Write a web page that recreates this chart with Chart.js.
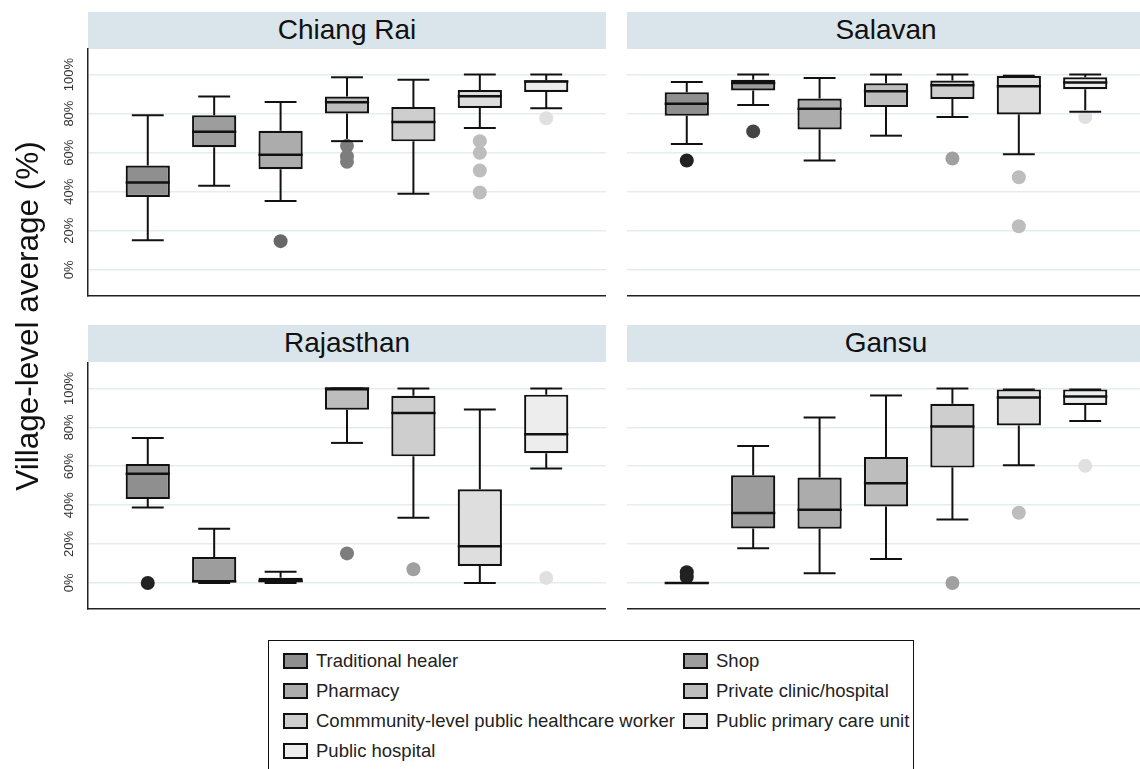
<!DOCTYPE html>
<html>
<head>
<meta charset="utf-8">
<script src="https://cdn.jsdelivr.net/npm/chart.js@4/dist/chart.umd.min.js"></script>
<style>
  html, body { margin: 0; padding: 0; background: #fff; }
  body { width: 1140px; height: 769px; overflow: hidden; position: relative;
         font-family: "Liberation Sans", Arial, Helvetica, sans-serif; }
  .strip { position: absolute; background: #d9e5ea; color: #111; font-size: 28px;
           display: flex; align-items: center; justify-content: center; padding-bottom: 2px; box-sizing: border-box; }
  canvas { position: absolute; }
  #ytitle { position: absolute; width: 440px; height: 36px; line-height: 36px; text-align: center;
            font-size: 31.5px; color: #111; left: -193px; top: 298px; transform: rotate(-90deg); }
  #legend { position: absolute; left: 268px; top: 640px; width: 646px; height: 150px;
            border: 1px solid #111; box-sizing: border-box; }
  .item { position: absolute; height: 20px; line-height: 20px; font-size: 18.5px; color: #222; white-space: nowrap; }
  .sw { position: absolute; width: 21px; height: 12px; border: 2px solid #111; top: 2px; left: 0; }
  .item span.t { position: absolute; left: 33px; top: 0; }
</style>
</head>
<body>

<div class="strip" style="left:88px;top:12px;width:518px;height:37px;">Chiang Rai</div>
<div class="strip" style="left:627px;top:12px;width:518px;height:37px;">Salavan</div>
<div class="strip" style="left:88px;top:325px;width:518px;height:37px;">Rajasthan</div>
<div class="strip" style="left:627px;top:325px;width:518px;height:37px;">Gansu</div>

<canvas id="c0" width="566" height="250" style="left:40px;top:48px;"></canvas>
<canvas id="c1" width="518" height="250" style="left:627px;top:48px;"></canvas>
<canvas id="c2" width="566" height="249" style="left:40px;top:362px;"></canvas>
<canvas id="c3" width="518" height="249" style="left:627px;top:362px;"></canvas>

<div id="ytitle">Village-level average (%)</div>
<div id="legend"></div>

<script>
// Provider types, in plotting order
const categories = [
  'Traditional healer',
  'Shop',
  'Pharmacy',
  'Private clinic/hospital',
  'Commmunity-level public healthcare worker',
  'Public primary care unit',
  'Public hospital'
];

// Tick values on the percentage axis
const yTicks = [0, 20, 40, 60, 80, 100];
const yTickLabels = ['0%', '20%', '40%', '60%', '80%', '100%'];

// Box fills and outlier marker colours per provider type
const boxFills = ['#8f8f8f', '#9d9d9d', '#acacac', '#bdbdbd', '#cecece', '#dedede', '#ededed'];
const dotColors = ['#222222', '#444444', '#676767', '#7d7d7d', '#a0a0a0', '#bdbdbd', '#e0e0e0'];

// Chiang Rai
const chiangRaiLow    = [15.1, 43.0, 35.3, 65.9, 38.9, 72.6, 82.7];
const chiangRaiQ1     = [37.3, 62.8, 51.5, 80.1, 65.8, 82.9, 91.1];
const chiangRaiMedian = [44.7, 70.7, 58.9, 85.8, 75.7, 88.9, 96.4];
const chiangRaiQ3     = [53.4, 79.1, 71.2, 88.7, 83.4, 92.1, 97.1];
const chiangRaiHigh   = [79.1, 88.7, 86.0, 98.6, 97.4, 100, 100];
const chiangRaiOut    = [[], [], [14.7], [63.5, 58.0, 55.3], [], [65.9, 59.9, 50.9, 39.6], [77.6]];

// Salavan
const salavanLow    = [64.4, 84.4, 56.0, 68.7, 78.3, 59.2, 81.0];
const salavanQ1     = [78.9, 91.8, 71.9, 83.4, 87.5, 79.6, 92.5];
const salavanMedian = [85.1, 95.7, 82.5, 91.4, 94.5, 94.0, 95.9];
const salavanQ3     = [90.9, 97.3, 87.7, 95.5, 96.9, 99.4, 98.6];
const salavanHigh   = [96.2, 100, 98.3, 100, 100, 99.4, 100];
const salavanOut    = [[56.0], [70.9], [], [], [57.0], [47.4, 22.3], [78.3]];

// Rajasthan
const rajasthanLow    = [38.8, 0, 0, 72.0, 33.5, 0, 58.8];
const rajasthanQ1     = [43.1, 0.2, 0, 89.1, 65.1, 8.7, 66.7];
const rajasthanMedian = [56.1, 0.9, 1.0, 100, 87.4, 18.8, 76.4];
const rajasthanQ3     = [61.2, 13.3, 2.7, 100, 96.2, 48.2, 96.8];
const rajasthanHigh   = [74.5, 27.9, 5.8, 100, 100, 89.2, 100];
const rajasthanOut    = [[0], [], [], [15.2], [7.0], [], [2.6]];

// Gansu
const gansuLow    = [0, 17.8, 5.0, 12.3, 32.6, 60.5, 83.2];
const gansuQ1     = [0, 28.0, 27.9, 39.3, 59.3, 81.0, 91.5];
const gansuMedian = [0, 35.9, 37.6, 51.3, 80.5, 95.4, 95.9];
const gansuQ3     = [0, 55.4, 54.2, 64.8, 92.1, 99.5, 99.5];
const gansuHigh   = [0, 70.4, 85.1, 96.4, 100, 99.5, 99.5];
const gansuOut    = [[5.5, 3.0], [], [], [], [0], [36.1], [60.2]];

const FONT = '"Liberation Sans", Arial, Helvetica, sans-serif';

// Whiskers behind the boxes, caps and median lines on top
const boxParts = {
  id: 'boxParts',
  beforeDatasetsDraw(chart, args, opts) {
    const { ctx, scales: { x, y } } = chart;
    ctx.save();
    ctx.strokeStyle = '#111';
    ctx.lineWidth = 2;
    opts.low.forEach((lo, i) => {
      const px = x.getPixelForValue(i + 1);
      ctx.beginPath();
      ctx.moveTo(px, y.getPixelForValue(lo));
      ctx.lineTo(px, y.getPixelForValue(opts.q1[i]));
      ctx.moveTo(px, y.getPixelForValue(opts.q3[i]));
      ctx.lineTo(px, y.getPixelForValue(opts.high[i]));
      ctx.stroke();
    });
    ctx.restore();
  },
  afterDatasetsDraw(chart, args, opts) {
    const { ctx, scales: { x, y } } = chart;
    const bars = chart.getDatasetMeta(0).data;
    ctx.save();
    ctx.strokeStyle = '#111';
    ctx.lineWidth = 2;
    const capHalf = x.getPixelForValue(1.24) - x.getPixelForValue(1);
    opts.low.forEach((lo, i) => {
      const px = x.getPixelForValue(i + 1);
      [lo, opts.high[i]].forEach(v => {
        const py = y.getPixelForValue(v);
        ctx.beginPath();
        ctx.moveTo(px - capHalf, py);
        ctx.lineTo(px + capHalf, py);
        ctx.stroke();
      });
    });
    ctx.lineWidth = 2.5;
    opts.median.forEach((m, i) => {
      const bar = bars[i];
      const py = y.getPixelForValue(m);
      ctx.beginPath();
      ctx.moveTo(bar.x - bar.width / 2, py);
      ctx.lineTo(bar.x + bar.width / 2, py);
      ctx.stroke();
    });
    ctx.restore();
  }
};

// Rotated percentage labels beside the left-hand axes
const yLabels = {
  id: 'yLabels',
  afterDraw(chart, args, opts) {
    if (!opts.show) return;
    const { ctx, scales: { y } } = chart;
    ctx.save();
    ctx.fillStyle = '#333';
    ctx.font = '13px ' + FONT;
    ctx.textAlign = 'center';
    ctx.textBaseline = 'middle';
    yTicks.forEach((v, i) => {
      ctx.save();
      ctx.translate(29, y.getPixelForValue(v));
      ctx.rotate(-Math.PI / 2);
      ctx.fillText(yTickLabels[i], 0, 0);
      ctx.restore();
    });
    ctx.restore();
  }
};

function makePanel(id, showAxis, low, q1, median, q3, high, outliers) {
  const boxes = categories.map((c, i) => ({ x: i + 1, y: [q1[i], q3[i]] }));
  const dots = [];
  const dotFill = [];
  outliers.forEach((vals, i) => vals.forEach(v => {
    dots.push({ x: i + 1, y: v });
    dotFill.push(dotColors[i]);
  }));

  new Chart(document.getElementById(id), {
    type: 'bar',
    data: {
      datasets: [
        {
          type: 'bar',
          data: boxes,
          backgroundColor: boxFills,
          borderColor: '#111',
          borderWidth: 2.2,
          borderSkipped: false,
          barPercentage: 0.74,
          categoryPercentage: 1
        },
        {
          type: 'scatter',
          data: dots,
          pointRadius: 7,
          pointHoverRadius: 7,
          pointBackgroundColor: dotFill,
          pointBorderWidth: 0,
          showLine: false
        }
      ]
    },
    options: {
      responsive: false,
      animation: false,
      devicePixelRatio: 1,
      layout: { padding: 0, autoPadding: false },
      plugins: {
        legend: { display: false },
        tooltip: { enabled: false },
        boxParts: { low, q1, median, q3, high },
        yLabels: { show: showAxis }
      },
      scales: {
        x: {
          type: 'linear',
          min: 0.1,
          max: 7.9,
          offset: false,
          ticks: { display: false },
          grid: { display: false, drawTicks: false },
          border: { display: true, color: '#222', width: 1.5 },
          afterFit(s) { s.height = 2; }
        },
        y: {
          type: 'linear',
          min: -13.4,
          max: 113.6,
          afterBuildTicks(s) { s.ticks = yTicks.map(v => ({ value: v })); },
          ticks: { display: false },
          grid: { color: '#e3edf0', lineWidth: 1.5, drawTicks: false, tickLength: 0 },
          border: { display: showAxis, color: '#222', width: 1.5 },
          afterFit(s) { s.width = showAxis ? 48 : 0; }
        }
      }
    },
    plugins: [boxParts, yLabels]
  });
}

makePanel('c0', true,  chiangRaiLow, chiangRaiQ1, chiangRaiMedian, chiangRaiQ3, chiangRaiHigh, chiangRaiOut);
makePanel('c1', false, salavanLow, salavanQ1, salavanMedian, salavanQ3, salavanHigh, salavanOut);
makePanel('c2', true,  rajasthanLow, rajasthanQ1, rajasthanMedian, rajasthanQ3, rajasthanHigh, rajasthanOut);
makePanel('c3', false, gansuLow, gansuQ1, gansuMedian, gansuQ3, gansuHigh, gansuOut);

// Legend: two columns, filled row by row
const legend = document.getElementById('legend');
categories.forEach((name, i) => {
  const col = i % 2, row = Math.floor(i / 2);
  const item = document.createElement('div');
  item.className = 'item';
  item.style.left = (col === 0 ? 14 : 414) + 'px';
  item.style.top = (10 + row * 30) + 'px';
  const sw = document.createElement('div');
  sw.className = 'sw';
  sw.style.background = boxFills[i];
  const t = document.createElement('span');
  t.className = 't';
  t.textContent = name;
  item.appendChild(sw);
  item.appendChild(t);
  legend.appendChild(item);
});
</script>
</body>
</html>
